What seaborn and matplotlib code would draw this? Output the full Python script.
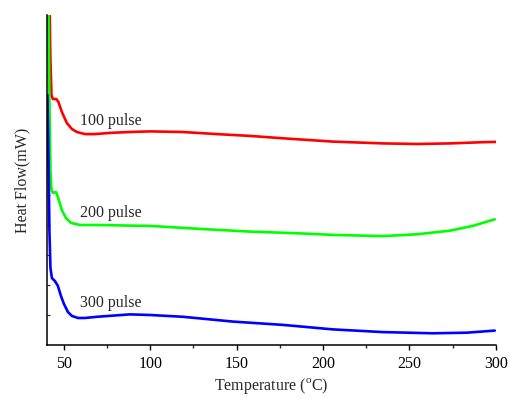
import numpy as np
import pandas as pd
import matplotlib
matplotlib.use("Agg")
import matplotlib.pyplot as plt
import seaborn as sns
from matplotlib.ticker import MultipleLocator

# ---- data ----
temp_100 = [41.6, 42.2, 42.8, 43.6, 45.6, 46.8, 48.8, 51.7, 54.6, 57.5, 62.2, 68.0, 76.6, 88.2,
            99.8, 118.9, 138.5, 157.6, 176.7, 205.7, 234.6, 254.3, 273.4, 292.5, 300.0]
hf_100 = [11.6, 9.5, 8.33, 8.2, 8.2, 8.1, 7.77, 7.4, 7.2, 7.1, 7.03, 7.03, 7.07, 7.1,
          7.12, 7.1, 7.03, 6.97, 6.89, 6.78, 6.72, 6.7, 6.72, 6.76, 6.77]

temp_200 = [41.0, 41.6, 42.2, 42.8, 43.6, 45.4, 46.5, 48.8, 51.2, 54.1, 59.3, 69.1, 88.2,
            99.8, 128.7, 157.6, 186.6, 205.7, 234.6, 254.3, 273.4, 286.7, 299.4]
hf_200 = [11.6, 8.17, 5.83, 5.17, 5.07, 5.1, 4.93, 4.5, 4.23, 4.07, 4.0, 4.0, 3.98,
          3.97, 3.87, 3.78, 3.72, 3.67, 3.63, 3.69, 3.81, 3.97, 4.19]

temp_300 = [40.45, 41.0, 41.6, 42.2, 43.05, 44.8, 46.5, 48.3, 50.0, 52.3, 54.6, 58.1, 62.2,
            69.1, 88.2, 99.8, 118.9, 147.8, 176.7, 205.7, 234.6, 263.5, 283.2, 299.4]
hf_300 = [8.33, 6.5, 3.83, 2.57, 2.23, 2.13, 1.97, 1.63, 1.37, 1.1, 0.97, 0.9, 0.9,
          0.94, 1.02, 1.0, 0.94, 0.78, 0.67, 0.52, 0.43, 0.39, 0.41, 0.48]

series_names = ["100 pulse", "200 pulse", "300 pulse"]
series_colors = ["#ff0000", "#00ff00", "#0000ff"]
label_x = [59.3, 59.3, 59.3]
label_y = [7.47, 4.4, 1.4]
x_ticks = [50, 100, 150, 200, 250, 300]

df = pd.concat([
    pd.DataFrame({"T": temp_100, "HF": hf_100, "s": series_names[0]}),
    pd.DataFrame({"T": temp_200, "HF": hf_200, "s": series_names[1]}),
    pd.DataFrame({"T": temp_300, "HF": hf_300, "s": series_names[2]}),
], ignore_index=True)

sns.set_style("ticks")
plt.rcParams["font.family"] = ["Liberation Serif", "DejaVu Serif"]
plt.rcParams["mathtext.fontset"] = "custom"
plt.rcParams["mathtext.rm"] = "Liberation Serif"

FS = 11.5

fig = plt.figure(figsize=(5.08, 3.98), dpi=100)
ax = fig.add_axes([0.0925, 0.1332, 0.8835, 0.8291])

sns.lineplot(data=df, x="T", y="HF", hue="s", palette=dict(zip(series_names, series_colors)),
             estimator=None, sort=False, linewidth=1.9, ax=ax, legend=False)

ax.set_xlim(40.2, 300)
ax.set_ylim(0, 11)
ax.set_xticks(x_ticks)
ax.xaxis.set_minor_locator(MultipleLocator(25))
ax.set_yticks(range(1, 11))
ax.set_yticklabels([])
ax.tick_params(axis="x", which="major", direction="out", length=3.6, width=1.0,
               labelsize=FS, pad=4, colors="black")
ax.tick_params(axis="x", which="minor", direction="out", length=2.2, width=1.0)
ax.tick_params(axis="y", which="major", direction="in", length=2.5, width=0.8)

for side in ["top", "right"]:
    ax.spines[side].set_visible(False)
for side in ["left", "bottom"]:
    ax.spines[side].set_linewidth(1.1)
    ax.spines[side].set_color("black")

ax.set_xlabel(r"Temperature ($^{\mathrm{o}}$C)", fontsize=FS, labelpad=3)
ax.set_ylabel("Heat Flow(mW)", fontsize=FS, labelpad=8.5)

for name, lx, ly in zip(series_names, label_x, label_y):
    ax.text(lx, ly, name, fontsize=FS, va="center", ha="left")

fig.savefig("out.png", dpi=100)
